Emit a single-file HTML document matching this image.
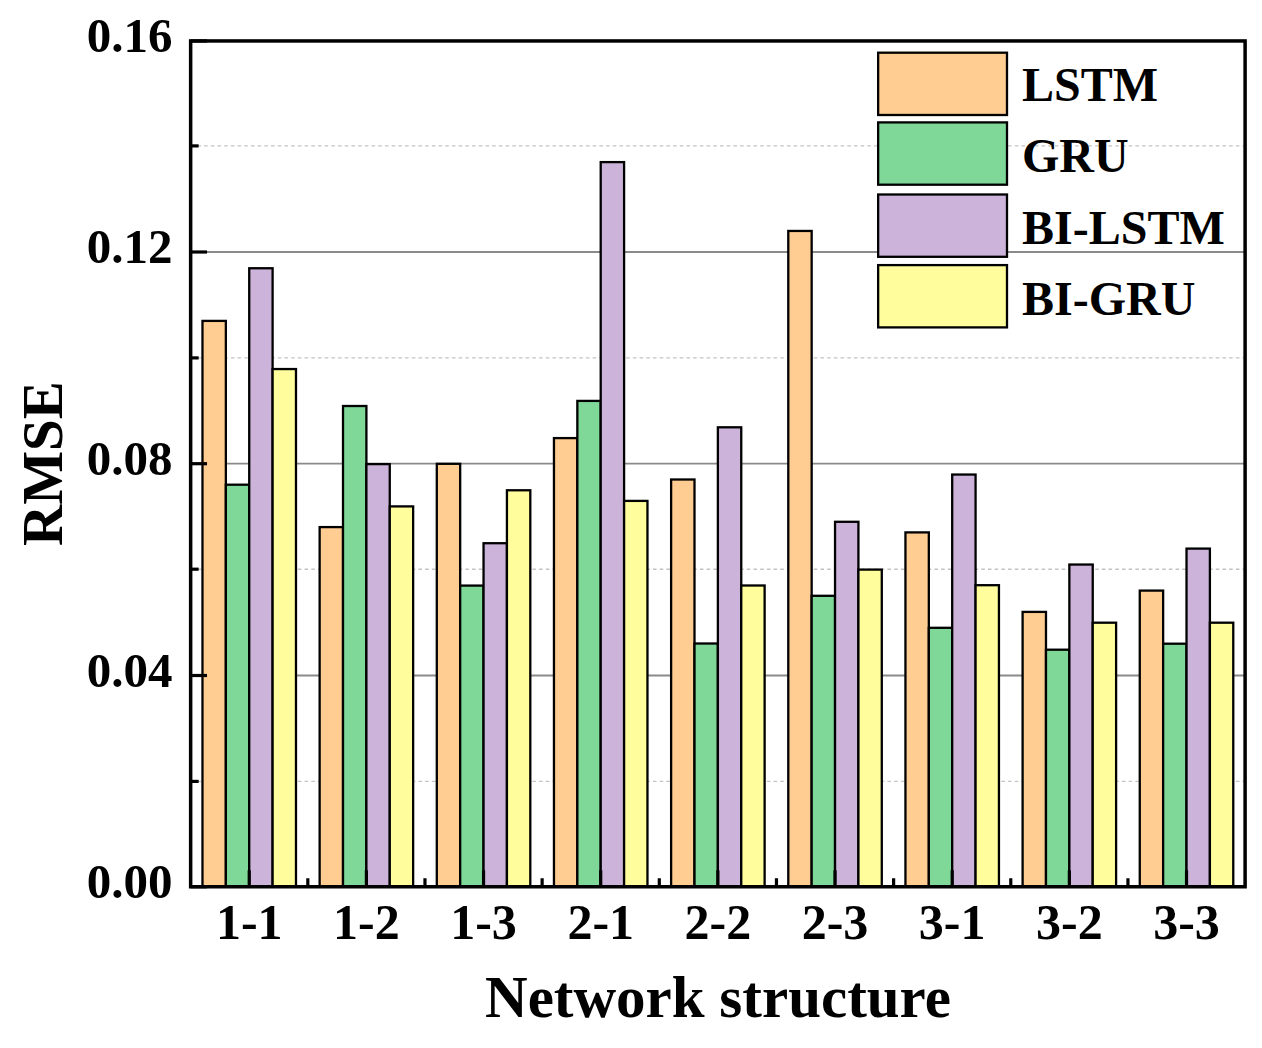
<!DOCTYPE html><html><head><meta charset="utf-8"><style>html,body{margin:0;padding:0;background:#fff;width:1262px;height:1048px;overflow:hidden}svg{display:block}text{font-family:"Liberation Serif",serif;font-weight:bold;fill:#000}</style></head><body>
<svg width="1262" height="1048" viewBox="0 0 1262 1048">
<rect width="1262" height="1048" fill="#fff"/>
<line x1="190.65" x2="1245.1" y1="781.4" y2="781.4" stroke="#c4c4c4" stroke-width="1.4" stroke-dasharray="3.6 3.1"/>
<line x1="190.65" x2="1245.1" y1="569.2" y2="569.2" stroke="#c4c4c4" stroke-width="1.4" stroke-dasharray="3.6 3.1"/>
<line x1="190.65" x2="1245.1" y1="357.9" y2="357.9" stroke="#c4c4c4" stroke-width="1.4" stroke-dasharray="3.6 3.1"/>
<line x1="190.65" x2="1245.1" y1="145.9" y2="145.9" stroke="#c4c4c4" stroke-width="1.4" stroke-dasharray="3.6 3.1"/>
<line x1="190.65" x2="1245.1" y1="675.5" y2="675.5" stroke="#8a8a8a" stroke-width="1.8"/>
<line x1="190.65" x2="1245.1" y1="463.7" y2="463.7" stroke="#8a8a8a" stroke-width="1.8"/>
<line x1="190.65" x2="1245.1" y1="252.0" y2="252.0" stroke="#8a8a8a" stroke-width="1.8"/>
<rect x="878.15" y="52.7" width="128.85" height="62.3" fill="#FFCC91" stroke="#000" stroke-width="2.3"/>
<text x="1022" y="101.2" font-size="48">LSTM</text>
<rect x="878.15" y="122.4" width="128.85" height="62.3" fill="#7FD898" stroke="#000" stroke-width="2.3"/>
<text x="1022" y="171.9" font-size="48">GRU</text>
<rect x="878.15" y="194.5" width="128.85" height="62.3" fill="#CCB3D9" stroke="#000" stroke-width="2.3"/>
<text x="1022" y="244.0" font-size="48">BI-LSTM</text>
<rect x="878.15" y="265.1" width="128.85" height="62.3" fill="#FFFD9C" stroke="#000" stroke-width="2.3"/>
<text x="1022" y="314.6" font-size="48">BI-GRU</text>
<rect x="202.48" y="320.90" width="23.375" height="565.85" fill="#FFCC91" stroke="#000" stroke-width="2.3"/>
<rect x="225.86" y="484.70" width="23.375" height="402.05" fill="#7FD898" stroke="#000" stroke-width="2.3"/>
<rect x="249.23" y="268.25" width="23.375" height="618.50" fill="#CCB3D9" stroke="#000" stroke-width="2.3"/>
<rect x="272.61" y="369.05" width="23.375" height="517.70" fill="#FFFD9C" stroke="#000" stroke-width="2.3"/>
<rect x="319.64" y="527.10" width="23.375" height="359.65" fill="#FFCC91" stroke="#000" stroke-width="2.3"/>
<rect x="343.02" y="406.00" width="23.375" height="480.75" fill="#7FD898" stroke="#000" stroke-width="2.3"/>
<rect x="366.39" y="464.10" width="23.375" height="422.65" fill="#CCB3D9" stroke="#000" stroke-width="2.3"/>
<rect x="389.77" y="506.40" width="23.375" height="380.35" fill="#FFFD9C" stroke="#000" stroke-width="2.3"/>
<rect x="436.80" y="463.80" width="23.375" height="422.95" fill="#FFCC91" stroke="#000" stroke-width="2.3"/>
<rect x="460.18" y="585.59" width="23.375" height="301.16" fill="#7FD898" stroke="#000" stroke-width="2.3"/>
<rect x="483.55" y="543.22" width="23.375" height="343.53" fill="#CCB3D9" stroke="#000" stroke-width="2.3"/>
<rect x="506.93" y="490.27" width="23.375" height="396.48" fill="#FFFD9C" stroke="#000" stroke-width="2.3"/>
<rect x="553.96" y="438.10" width="23.375" height="448.65" fill="#FFCC91" stroke="#000" stroke-width="2.3"/>
<rect x="577.34" y="400.90" width="23.375" height="485.85" fill="#7FD898" stroke="#000" stroke-width="2.3"/>
<rect x="600.71" y="162.10" width="23.375" height="724.65" fill="#CCB3D9" stroke="#000" stroke-width="2.3"/>
<rect x="624.09" y="500.90" width="23.375" height="385.85" fill="#FFFD9C" stroke="#000" stroke-width="2.3"/>
<rect x="671.12" y="479.50" width="23.375" height="407.25" fill="#FFCC91" stroke="#000" stroke-width="2.3"/>
<rect x="694.50" y="643.50" width="23.375" height="243.25" fill="#7FD898" stroke="#000" stroke-width="2.3"/>
<rect x="717.87" y="427.30" width="23.375" height="459.45" fill="#CCB3D9" stroke="#000" stroke-width="2.3"/>
<rect x="741.25" y="585.50" width="23.375" height="301.25" fill="#FFFD9C" stroke="#000" stroke-width="2.3"/>
<rect x="788.29" y="230.95" width="23.375" height="655.80" fill="#FFCC91" stroke="#000" stroke-width="2.3"/>
<rect x="811.66" y="595.80" width="23.375" height="290.95" fill="#7FD898" stroke="#000" stroke-width="2.3"/>
<rect x="835.04" y="521.80" width="23.375" height="364.95" fill="#CCB3D9" stroke="#000" stroke-width="2.3"/>
<rect x="858.41" y="569.60" width="23.375" height="317.15" fill="#FFFD9C" stroke="#000" stroke-width="2.3"/>
<rect x="905.45" y="532.40" width="23.375" height="354.35" fill="#FFCC91" stroke="#000" stroke-width="2.3"/>
<rect x="928.82" y="627.80" width="23.375" height="258.95" fill="#7FD898" stroke="#000" stroke-width="2.3"/>
<rect x="952.20" y="474.55" width="23.375" height="412.20" fill="#CCB3D9" stroke="#000" stroke-width="2.3"/>
<rect x="975.57" y="585.20" width="23.375" height="301.55" fill="#FFFD9C" stroke="#000" stroke-width="2.3"/>
<rect x="1022.61" y="611.90" width="23.375" height="274.85" fill="#FFCC91" stroke="#000" stroke-width="2.3"/>
<rect x="1045.98" y="649.70" width="23.375" height="237.05" fill="#7FD898" stroke="#000" stroke-width="2.3"/>
<rect x="1069.36" y="564.55" width="23.375" height="322.20" fill="#CCB3D9" stroke="#000" stroke-width="2.3"/>
<rect x="1092.73" y="622.70" width="23.375" height="264.05" fill="#FFFD9C" stroke="#000" stroke-width="2.3"/>
<rect x="1139.77" y="590.60" width="23.375" height="296.15" fill="#FFCC91" stroke="#000" stroke-width="2.3"/>
<rect x="1163.14" y="643.70" width="23.375" height="243.05" fill="#7FD898" stroke="#000" stroke-width="2.3"/>
<rect x="1186.52" y="548.60" width="23.375" height="338.15" fill="#CCB3D9" stroke="#000" stroke-width="2.3"/>
<rect x="1209.89" y="622.70" width="23.375" height="264.05" fill="#FFFD9C" stroke="#000" stroke-width="2.3"/>
<line x1="190.65" x2="207.05" y1="886.75" y2="886.75" stroke="#000" stroke-width="3.2"/>
<line x1="190.65" x2="207.05" y1="675.5" y2="675.5" stroke="#000" stroke-width="3.2"/>
<line x1="190.65" x2="207.05" y1="463.7" y2="463.7" stroke="#000" stroke-width="3.2"/>
<line x1="190.65" x2="207.05" y1="252.0" y2="252.0" stroke="#000" stroke-width="3.2"/>
<line x1="190.65" x2="207.05" y1="40.95" y2="40.95" stroke="#000" stroke-width="3.2"/>
<line x1="190.65" x2="198.65" y1="781.4" y2="781.4" stroke="#000" stroke-width="3.2"/>
<line x1="190.65" x2="198.65" y1="569.2" y2="569.2" stroke="#000" stroke-width="3.2"/>
<line x1="190.65" x2="198.65" y1="357.9" y2="357.9" stroke="#000" stroke-width="3.2"/>
<line x1="190.65" x2="198.65" y1="145.9" y2="145.9" stroke="#000" stroke-width="3.2"/>
<line x1="249.23" x2="249.23" y1="886.75" y2="870.25" stroke="#000" stroke-width="3.2"/>
<line x1="307.81" x2="307.81" y1="886.75" y2="878.25" stroke="#000" stroke-width="3.2"/>
<line x1="366.39" x2="366.39" y1="886.75" y2="870.25" stroke="#000" stroke-width="3.2"/>
<line x1="424.97" x2="424.97" y1="886.75" y2="878.25" stroke="#000" stroke-width="3.2"/>
<line x1="483.55" x2="483.55" y1="886.75" y2="870.25" stroke="#000" stroke-width="3.2"/>
<line x1="542.13" x2="542.13" y1="886.75" y2="878.25" stroke="#000" stroke-width="3.2"/>
<line x1="600.71" x2="600.71" y1="886.75" y2="870.25" stroke="#000" stroke-width="3.2"/>
<line x1="659.29" x2="659.29" y1="886.75" y2="878.25" stroke="#000" stroke-width="3.2"/>
<line x1="717.87" x2="717.87" y1="886.75" y2="870.25" stroke="#000" stroke-width="3.2"/>
<line x1="776.46" x2="776.46" y1="886.75" y2="878.25" stroke="#000" stroke-width="3.2"/>
<line x1="835.04" x2="835.04" y1="886.75" y2="870.25" stroke="#000" stroke-width="3.2"/>
<line x1="893.62" x2="893.62" y1="886.75" y2="878.25" stroke="#000" stroke-width="3.2"/>
<line x1="952.20" x2="952.20" y1="886.75" y2="870.25" stroke="#000" stroke-width="3.2"/>
<line x1="1010.78" x2="1010.78" y1="886.75" y2="878.25" stroke="#000" stroke-width="3.2"/>
<line x1="1069.36" x2="1069.36" y1="886.75" y2="870.25" stroke="#000" stroke-width="3.2"/>
<line x1="1127.94" x2="1127.94" y1="886.75" y2="878.25" stroke="#000" stroke-width="3.2"/>
<line x1="1186.52" x2="1186.52" y1="886.75" y2="870.25" stroke="#000" stroke-width="3.2"/>
<rect x="190.65" y="40.95" width="1054.45" height="845.80" fill="none" stroke="#000" stroke-width="3.5"/>
<text x="172.5" y="897.75" font-size="49" text-anchor="end">0.00</text>
<text x="172.5" y="686.50" font-size="49" text-anchor="end">0.04</text>
<text x="172.5" y="474.70" font-size="49" text-anchor="end">0.08</text>
<text x="172.5" y="263.00" font-size="49" text-anchor="end">0.12</text>
<text x="172.5" y="51.95" font-size="49" text-anchor="end">0.16</text>
<text x="249.23" y="939" font-size="50" text-anchor="middle">1-1</text>
<text x="366.39" y="939" font-size="50" text-anchor="middle">1-2</text>
<text x="483.55" y="939" font-size="50" text-anchor="middle">1-3</text>
<text x="600.71" y="939" font-size="50" text-anchor="middle">2-1</text>
<text x="717.87" y="939" font-size="50" text-anchor="middle">2-2</text>
<text x="835.04" y="939" font-size="50" text-anchor="middle">2-3</text>
<text x="952.20" y="939" font-size="50" text-anchor="middle">3-1</text>
<text x="1069.36" y="939" font-size="50" text-anchor="middle">3-2</text>
<text x="1186.52" y="939" font-size="50" text-anchor="middle">3-3</text>
<text x="718" y="1017" font-size="59" text-anchor="middle">Network structure</text>
<text transform="translate(62,463.6) rotate(-90)" x="0" y="0" font-size="57" text-anchor="middle">RMSE</text>
</svg></body></html>
